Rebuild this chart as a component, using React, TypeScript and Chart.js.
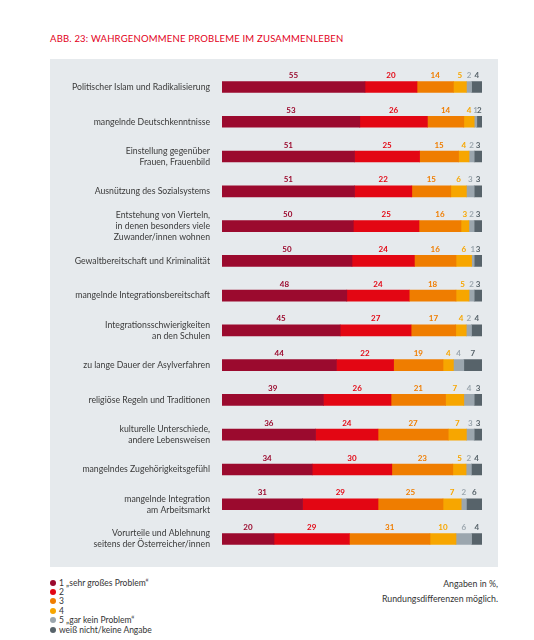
import React, { useEffect, useRef } from "react";
import { Chart, registerables } from "chart.js";

Chart.register(...registerables);

const title = "ABB. 23: WAHRGENOMMENE PROBLEME IM ZUSAMMENLEBEN";

const categories: (string | string[])[] = [
  "Politischer Islam und Radikalisierung",
  "mangelnde Deutschkenntnisse",
  ["Einstellung gegenüber", "Frauen, Frauenbild"],
  "Ausnützung des Sozialsystems",
  ["Entstehung von Vierteln,", "in denen besonders viele", "Zuwander/innen wohnen"],
  "Gewaltbereitschaft und Kriminalität",
  "mangelnde Integrationsbereitschaft",
  ["Integrationsschwierigkeiten", "an den Schulen"],
  "zu lange Dauer der Asylverfahren",
  "religiöse Regeln und Traditionen",
  ["kulturelle Unterschiede,", "andere Lebensweisen"],
  "mangelndes Zugehörigkeitsgefühl",
  ["mangelnde Integration", "am Arbeitsmarkt"],
  ["Vorurteile und Ablehnung", "seitens der Österreicher/innen"],
];

const sehrGrosses = [55, 53, 51, 51, 50, 50, 48, 45, 44, 39, 36, 34, 31, 20];
const stufe2 = [20, 26, 25, 22, 25, 24, 24, 27, 22, 26, 24, 30, 29, 29];
const stufe3 = [14, 14, 15, 15, 16, 16, 18, 17, 19, 21, 27, 23, 25, 31];
const stufe4 = [5, 4, 4, 6, 3, 6, 5, 4, 4, 7, 7, 5, 7, 10];
const garKein = [2, 1, 2, 3, 2, 1, 2, 2, 4, 4, 3, 2, 2, 6];
const weissNicht = [4, 2, 3, 3, 3, 3, 3, 4, 7, 3, 3, 4, 6, 4];

const seriesLabels = [
  "1 „sehr großes Problem“",
  "2",
  "3",
  "4",
  "5 „gar kein Problem“",
  "weiß nicht/keine Angabe",
];
const seriesColors = ["#9b0a2e", "#e30613", "#ef7d00", "#f7a600", "#9ba6ae", "#57636a"];
const seriesValues = [sehrGrosses, stufe2, stufe3, stufe4, garKein, weissNicht];

const footnote = ["Angaben in %,", "Rundungsdifferenzen möglich."];

const FONT = "Lato, 'Open Sans', sans-serif";

export default function App() {
  const canvasRef = useRef<HTMLCanvasElement | null>(null);

  useEffect(() => {
    if (!canvasRef.current) return;
    const totals = categories.map((_, i) =>
      seriesValues.reduce((s, arr) => s + arr[i], 0)
    );

    const valueLabels = {
      id: "valueLabels",
      afterDatasetsDraw(chart: any) {
        const ctx = chart.ctx;
        ctx.save();
        ctx.font = `bold 8px ${FONT}`;
        ctx.textAlign = "center";
        ctx.textBaseline = "middle";
        chart.data.datasets.forEach((ds: any, di: number) => {
          const meta = chart.getDatasetMeta(di);
          meta.data.forEach((el: any, i: number) => {
            const p = el.getProps(["x", "base", "y", "height"], true);
            const cx = (p.x + p.base) / 2;
            const cy = p.y - p.height / 2 - 6;
            ctx.fillStyle = ds.backgroundColor;
            ctx.fillText(String(seriesValues[di][i]), cx, cy);
          });
        });
        ctx.restore();
      },
    };

    const chart = new Chart(canvasRef.current, {
      type: "bar",
      data: {
        labels: categories,
        datasets: seriesValues.map((arr, di) => ({
          label: seriesLabels[di],
          data: arr.map((v, i) => (v / totals[i]) * 100),
          backgroundColor: seriesColors[di],
          borderWidth: 0,
          barThickness: 11,
        })),
      },
      options: {
        indexAxis: "y",
        responsive: false,
        animation: false,
        devicePixelRatio: 1,
        layout: { padding: { top: 10.6, bottom: 10.6, right: 16, left: 0 } },
        scales: {
          x: { stacked: true, min: 0, max: 100, display: false },
          y: {
            stacked: true,
            grid: { display: false, drawTicks: false },
            border: { display: false },
            ticks: {
              padding: 12,
              color: "#3a3a3a",
              autoSkip: false,
              font: { family: FONT, size: 8.7, lineHeight: 1.27 },
            },
            afterFit: (s: any) => {
              s.width = 172;
              s.paddingTop = 0;
              s.paddingBottom = 0;
            },
          },
        },
        plugins: {
          legend: { display: false },
          tooltip: { enabled: false },
        },
      },
      plugins: [valueLabels],
    } as any);
    return () => chart.destroy();
  }, []);

  return (
    <div
      style={{
        position: "absolute",
        left: 0,
        top: 0,
        width: 534,
        height: 640,
        background: "#ffffff",
        fontFamily: FONT,
      }}
    >
      <div
        style={{
          position: "absolute",
          left: 50,
          top: 33,
          fontSize: 9.5,
          lineHeight: "12px",
          color: "#e2001a",
          letterSpacing: 0.2,
          whiteSpace: "nowrap",
        }}
      >
        {title}
      </div>
      <div
        style={{
          position: "absolute",
          left: 50,
          top: 59,
          width: 448,
          height: 508,
          background: "#e6eaed",
        }}
      >
        <canvas ref={canvasRef} width={448} height={508} style={{ display: "block" }} />
      </div>
      <div style={{ position: "absolute", left: 50, top: 578 }}>
        {seriesLabels.map((l, i) => (
          <div
            key={i}
            style={{
              display: "flex",
              alignItems: "center",
              height: 9.4,
              fontSize: 8.5,
              color: "#333",
              whiteSpace: "nowrap",
            }}
          >
            <span
              style={{
                display: "inline-block",
                width: 6,
                height: 6,
                borderRadius: 3,
                background: seriesColors[i],
                marginRight: 3,
              }}
            />
            {l}
          </div>
        ))}
      </div>
      <div
        style={{
          position: "absolute",
          right: 36,
          top: 576,
          textAlign: "right",
          fontSize: 8.8,
          lineHeight: "15px",
          color: "#333",
        }}
      >
        {footnote.map((f, i) => (
          <div key={i}>{f}</div>
        ))}
      </div>
    </div>
  );
}
